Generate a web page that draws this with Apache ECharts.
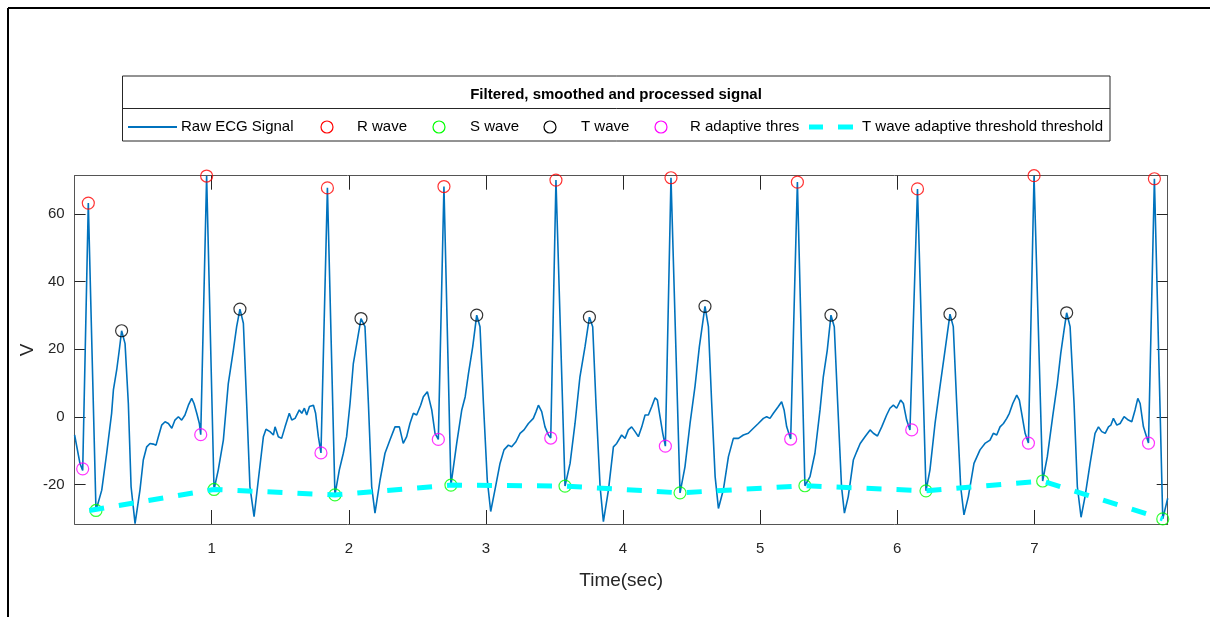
<!DOCTYPE html>
<html><head><meta charset="utf-8">
<script src="https://cdn.jsdelivr.net/npm/echarts@6/dist/echarts.min.js"></script>
<style>html,body{margin:0;padding:0;background:#fff}#c{width:1219px;height:617px}</style>
</head><body><div id="c"></div><script>
// ---- data ----
const timeSec = [0.000,0.039,0.059,0.100,0.156,0.198,0.234,0.270,0.283,0.307,0.326,0.343,0.368,0.392,0.412,0.441,0.477,0.501,0.526,0.550,0.574,0.594,0.611,0.635,0.660,0.684,0.709,0.732,0.757,0.781,0.805,0.830,0.854,0.871,0.891,0.910,0.920,0.963,1.017,1.048,1.085,1.121,1.158,1.182,1.206,1.231,1.255,1.279,1.309,1.340,1.377,1.396,1.425,1.450,1.462,1.486,1.510,1.535,1.566,1.584,1.608,1.639,1.657,1.676,1.693,1.713,1.742,1.758,1.778,1.797,1.844,1.899,1.931,1.960,1.984,2.009,2.033,2.058,2.089,2.118,2.143,2.167,2.191,2.228,2.264,2.300,2.337,2.369,2.397,2.422,2.446,2.471,2.495,2.524,2.544,2.573,2.605,2.629,2.653,2.694,2.745,2.787,2.824,2.849,2.873,2.904,2.933,2.957,2.982,3.010,3.035,3.066,3.103,3.132,3.164,3.188,3.219,3.249,3.278,3.310,3.346,3.366,3.383,3.407,3.431,3.456,3.473,3.511,3.577,3.614,3.650,3.686,3.723,3.755,3.779,3.803,3.833,3.857,3.894,3.930,3.954,3.990,4.015,4.039,4.063,4.088,4.112,4.137,4.161,4.185,4.210,4.234,4.251,4.270,4.290,4.309,4.350,4.416,4.452,4.489,4.525,4.557,4.598,4.623,4.647,4.672,4.696,4.732,4.769,4.805,4.842,4.878,4.914,4.951,4.987,5.024,5.048,5.072,5.097,5.133,5.157,5.175,5.194,5.223,5.272,5.327,5.364,5.400,5.437,5.461,5.490,5.517,5.541,5.566,5.594,5.615,5.643,5.680,5.705,5.730,5.765,5.802,5.826,5.856,5.887,5.923,5.947,5.972,5.996,6.025,6.045,6.069,6.093,6.106,6.148,6.210,6.239,6.276,6.312,6.349,6.385,6.409,6.434,6.463,6.487,6.519,6.560,6.604,6.640,6.677,6.701,6.726,6.750,6.775,6.799,6.818,6.843,6.872,6.891,6.908,6.933,6.957,6.998,7.061,7.095,7.134,7.168,7.193,7.217,7.236,7.261,7.290,7.314,7.341,7.370,7.407,7.443,7.468,7.492,7.517,7.541,7.558,7.577,7.602,7.626,7.655,7.686,7.711,7.735,7.755,7.772,7.796,7.833,7.876,7.937,7.973];
const ecgValue = [-5.3,-13.7,-15.8,63.2,-27.6,-21.6,-10.7,1.1,8.0,13.9,19.8,25.5,21.7,4.0,-20.6,-31.5,-21.5,-12.7,-8.8,-7.8,-8.0,-8.3,-5.8,-2.4,-1.4,-1.9,-3.3,-0.9,0.1,-0.9,0.6,3.5,5.5,4.0,1.1,-1.9,-5.2,71.2,-21.4,-15.6,-6.8,9.9,19.8,26.7,31.9,27.7,4.0,-20.6,-29.4,-18.6,-5.8,-3.6,-4.3,-5.3,-2.9,-5.8,-6.3,-2.9,1.1,-0.9,-0.4,2.1,1.1,2.6,0.6,3.1,3.5,1.1,-5.8,-10.6,67.7,-23.0,-15.6,-10.7,-5.8,4.0,15.8,21.7,29.1,26.7,4.0,-20.6,-28.4,-18.6,-10.7,-6.8,-2.9,-2.9,-7.8,-5.8,-1.9,1.1,0.6,3.5,6.0,7.5,2.1,-4.8,-6.6,68.1,-20.1,-7.8,2.1,6.0,12.9,20.8,30.1,26.7,4.0,-18.6,-27.9,-21.5,-13.7,-9.7,-8.3,-8.8,-7.3,-4.8,-3.8,-1.9,-0.4,1.6,3.5,1.6,-2.9,-5.3,-6.2,70.0,-20.4,-13.7,-1.9,11.9,20.8,29.5,26.7,4.0,-20.6,-30.9,-21.5,-8.8,-7.8,-5.3,-6.3,-3.8,-2.9,-4.3,-5.8,-2.9,0.6,0.6,3.1,5.7,5.0,0.1,-4.8,-8.6,70.7,-22.4,-14.7,-1.9,9.0,20.8,32.7,26.7,4.0,-17.6,-27.0,-21.5,-11.7,-6.3,-6.3,-5.3,-4.8,-3.3,-1.9,-0.4,0.1,-0.4,1.1,3.1,4.5,2.1,-2.9,-6.5,69.4,-20.3,-17.6,-10.7,2.1,11.9,19.8,30.1,26.7,4.0,-20.6,-28.4,-23.5,-12.7,-10.2,-7.8,-5.8,-3.8,-4.8,-5.6,-2.9,0.6,2.6,3.5,2.6,5.0,4.0,-0.9,-3.8,-3.8,67.4,-21.8,-15.6,-1.9,9.0,19.8,30.4,26.7,4.0,-20.6,-28.9,-23.5,-13.7,-9.7,-7.8,-6.8,-4.8,-5.3,-2.9,-1.9,-0.4,1.1,4.0,6.5,5.0,1.1,-4.8,-7.7,71.3,-18.9,-11.7,0.1,9.9,18.8,25.7,30.8,26.7,4.0,-20.6,-29.6,-23.5,-13.7,-4.8,-2.9,-4.3,-4.8,-2.9,-2.4,-0.4,-2.4,-1.9,0.1,-0.9,-1.4,2.1,5.5,4.0,-2.9,-7.7,70.4,-30.1,-24.0];

const rTime  = [0.100,0.963,1.844,2.694,3.511,4.350,5.272,6.148,6.998,7.876];
const rValue = [63.2,71.2,67.7,68.1,70.0,70.7,69.4,67.4,71.3,70.4];
const sTime  = [0.156,1.017,1.899,2.745,3.577,4.416,5.327,6.210,7.061,7.937];
const sValue = [-27.6,-21.4,-23.0,-20.1,-20.4,-22.4,-20.3,-21.8,-18.9,-30.1];
const tTime  = [0.343,1.206,2.089,2.933,3.755,4.598,5.517,6.385,7.236];
const tValue = [25.5,31.9,29.1,30.1,29.5,32.7,30.1,30.4,30.8];
const rThrTime  = [0.059,0.920,1.797,2.653,3.473,4.309,5.223,6.106,6.957,7.833];
const rThrValue = [-15.3,-5.2,-10.6,-6.6,-6.2,-8.6,-6.5,-3.8,-7.7,-7.7];
const tThrTime  = [0.107,1.017,1.899,2.745,3.577,4.416,5.327,6.210,7.061,7.937];
const tThrValue = [-27.6,-21.4,-23.0,-20.1,-20.4,-22.4,-20.3,-21.8,-18.9,-30.1];

const xTickValues = [1,2,3,4,5,6,7];
const yTickValues = [-20,0,20,40,60];
const seriesNames = ['Raw ECG Signal','R wave','S wave','T wave','R adaptive thres','T wave adaptive threshold threshold'];
const legendTitle = 'Filtered, smoothed and processed signal';

// ---- chart ----
const FONT = '"Liberation Sans", Arial, Helvetica, sans-serif';
const X_MIN = 0, X_MAX = 7.973, Y_MIN = -31.6, Y_MAX = 71.3;
const zip = (a, b) => a.map((v, i) => [v, b[i]]);
const AX = '#555555', TK = '#262626';
const C = {ecg: '#0072BD', r: '#FF0000', s: '#00FF00', t: '#000000', q: '#FF00FF', thr: '#00FFFF'};

function xAx(pos) {
  return {
    type: 'value', min: X_MIN, max: X_MAX, position: pos,
    name: pos === 'bottom' ? 'Time(sec)' : '', nameLocation: 'middle', nameGap: 47, nameMoveOverlap: false,
    nameTextStyle: {fontSize: 19, color: TK, fontFamily: FONT},
    axisLine: {show: true, onZero: false, lineStyle: {color: AX, width: 1}},
    axisTick: {show: true, inside: true, length: 14, customValues: xTickValues, lineStyle: {color: TK, width: 1}},
    axisLabel: {show: pos === 'bottom', customValues: xTickValues, fontSize: 15, color: TK, margin: 17, fontFamily: FONT},
    splitLine: {show: false}
  };
}
function yAx(pos) {
  return {
    type: 'value', min: Y_MIN, max: Y_MAX, position: pos,
    name: pos === 'left' ? 'V' : '', nameLocation: 'middle', nameGap: 37, nameRotate: 90, nameMoveOverlap: false,
    nameTextStyle: {fontSize: 19, color: TK, fontFamily: FONT},
    axisLine: {show: true, onZero: false, lineStyle: {color: AX, width: 1}},
    axisTick: {show: true, inside: true, length: 11, customValues: yTickValues, lineStyle: {color: TK, width: 1}},
    axisLabel: {show: pos === 'left', customValues: yTickValues, fontSize: 15, color: TK, margin: 10, fontFamily: FONT},
    splitLine: {show: false}
  };
}
function markers(name, t, v, color) {
  return {
    name, type: 'scatter', data: zip(t, v), symbol: 'circle', symbolSize: 12,
    itemStyle: {color: 'rgba(0,0,0,0)', borderColor: color, borderWidth: 1.2},
    emphasis: {disabled: true}, z: 3
  };
}

// legend drawn as graphic elements (MATLAB-style box with title row)
const LY = 127;
const legText = (x, s) => ({type: 'text', x, y: LY, style: {text: s, font: '15px ' + FONT, fill: '#000', textAlign: 'left', textVerticalAlign: 'middle'}});
const legCircle = (cx, color) => ({type: 'circle', shape: {cx, cy: LY, r: 6}, style: {fill: 'none', stroke: color, lineWidth: 1.2}});

const chart = echarts.init(document.getElementById('c'), null, {renderer: 'canvas'});
chart.setOption({
  animation: false,
  backgroundColor: '#ffffff',
  grid: {left: 74.6, right: 51.3, top: 175.7, bottom: 93},
  xAxis: [xAx('bottom'), xAx('top')],
  yAxis: [yAx('left'), yAx('right')],
  graphic: [
    {type: 'line', shape: {x1: 8, y1: 8, x2: 1210, y2: 8}, style: {stroke: '#000', lineWidth: 2}},
    {type: 'line', shape: {x1: 8, y1: 8, x2: 8, y2: 617}, style: {stroke: '#000', lineWidth: 2}},
    {type: 'rect', shape: {x: 122.5, y: 76, width: 987.5, height: 65}, style: {fill: '#fff', stroke: '#262626', lineWidth: 1}},
    {type: 'line', shape: {x1: 122.5, y1: 108.5, x2: 1110, y2: 108.5}, style: {stroke: '#262626', lineWidth: 1}},
    {type: 'text', x: 616, y: 95, style: {text: legendTitle, font: 'bold 15px ' + FONT, fill: '#000', textAlign: 'center', textVerticalAlign: 'middle'}},
    {type: 'line', shape: {x1: 128, y1: LY, x2: 177, y2: LY}, style: {stroke: C.ecg, lineWidth: 2}},
    legText(181, seriesNames[0]),
    legCircle(327, C.r), legText(357, seriesNames[1]),
    legCircle(439, C.s), legText(470, seriesNames[2]),
    legCircle(550, C.t), legText(581, seriesNames[3]),
    legCircle(661, C.q), legText(690, seriesNames[4]),
    {type: 'line', shape: {x1: 809, y1: LY, x2: 823, y2: LY}, style: {stroke: C.thr, lineWidth: 5}},
    {type: 'line', shape: {x1: 838, y1: LY, x2: 853, y2: LY}, style: {stroke: C.thr, lineWidth: 5}},
    legText(862, seriesNames[5])
  ],
  series: [
    {name: seriesNames[0], type: 'line', data: zip(timeSec, ecgValue), symbol: 'none',
     lineStyle: {color: C.ecg, width: 1.6}, itemStyle: {color: C.ecg}, z: 2},
    markers(seriesNames[1], rTime, rValue, C.r),
    markers(seriesNames[2], sTime, sValue, C.s),
    markers(seriesNames[3], tTime, tValue, C.t),
    markers(seriesNames[4], rThrTime, rThrValue, C.q),
    {name: seriesNames[5], type: 'line', data: zip(tThrTime, tThrValue), symbol: 'none',
     lineStyle: {color: C.thr, width: 5, type: [15, 15], cap: 'butt'}, itemStyle: {color: C.thr}, z: 4}
  ]
});
</script></body></html>
